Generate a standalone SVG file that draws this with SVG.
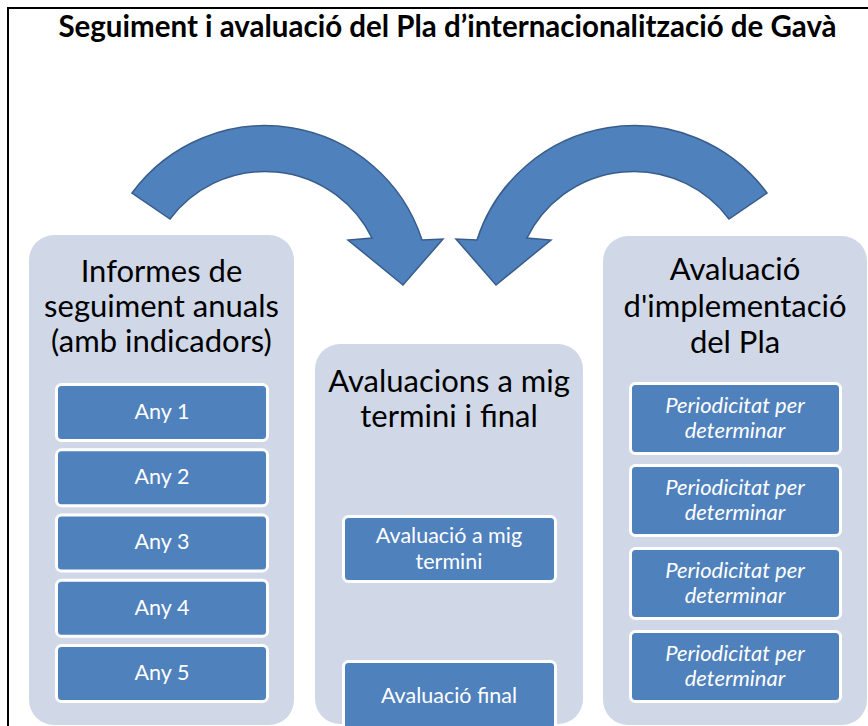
<svg xmlns="http://www.w3.org/2000/svg" width="868" height="726" viewBox="0 0 868 726">
<style>
.panel{fill:#D0D8E8;}
.box{fill:#4F81BD;stroke:#FFFFFF;stroke-width:3;}
.arrow{fill:#4F81BD;stroke:#385D8A;stroke-width:1.5;stroke-linejoin:miter;}
.title{font-family:Lato,"Liberation Sans",sans-serif;font-weight:bold;font-size:29.5px;fill:#000;text-anchor:middle;}
.ptitle{font-family:Lato,"Liberation Sans",sans-serif;font-size:31px;fill:#000;text-anchor:middle;}
.btext{font-family:Lato,"Liberation Sans",sans-serif;font-size:21.5px;fill:#FFFFFF;text-anchor:middle;}
.itext{font-family:Lato,"Liberation Sans",sans-serif;font-size:22px;font-style:italic;fill:#FFFFFF;text-anchor:middle;}
</style>
<rect x="0" y="0" width="868" height="726" fill="#FFFFFF"/>
<path d="M8 726 L8 8 L868 8" fill="none" stroke="#000" stroke-width="2"/>
<text class="title" x="447.5" y="37">Seguiment i avaluació del Pla d’internacionalització de Gavà</text>

<g id="connectors">
<path class="arrow" d="M132 193 A165 165 0 0 1 422 240 L443 239 L403 285 L348 240 L372 238 A119 119 0 0 0 170 219 Z"/>
<path class="arrow" d="M767 193 A165 165 0 0 0 477 240 L456 239 L496 285 L551 240 L527 238 A119 119 0 0 1 729 219 Z"/>
</g>

<g id="panel-informes">
<rect class="panel" x="29" y="235" width="265" height="490" rx="25"/>
<text class="ptitle" x="161.5" y="282">Informes de</text>
<text class="ptitle" x="161.5" y="317">seguiment anuals</text>
<text class="ptitle" x="161.5" y="352">(amb indicadors)</text>
</g>
<g id="any1"><rect class="box" x="56.5" y="384.5" width="211" height="56" rx="5"/><text class="btext" x="162" y="419">Any 1</text></g>
<g id="any2"><rect class="box" x="56.5" y="449.75" width="211" height="56" rx="5"/><text class="btext" x="162" y="484">Any 2</text></g>
<g id="any3"><rect class="box" x="56.5" y="515" width="211" height="56" rx="5"/><text class="btext" x="162" y="549">Any 3</text></g>
<g id="any4"><rect class="box" x="56.5" y="580.25" width="211" height="56" rx="5"/><text class="btext" x="162" y="615">Any 4</text></g>
<g id="any5"><rect class="box" x="56.5" y="645.5" width="211" height="56" rx="5"/><text class="btext" x="162" y="680">Any 5</text></g>

<g id="panel-avaluacions">
<rect class="panel" x="315" y="344" width="268" height="380" rx="25"/>
<text class="ptitle" x="449" y="392">Avaluacions a mig</text>
<text class="ptitle" x="449" y="427">termini i final</text>
</g>
<g id="mig"><rect class="box" x="343.5" y="516.5" width="212" height="65" rx="5"/><text class="btext" x="449" y="543">Avaluació a mig</text><text class="btext" x="449" y="569">termini</text></g>
<g id="final"><rect class="box" x="343.5" y="661.5" width="212" height="70" rx="5"/><text class="btext" x="449" y="703">Avaluació final</text></g>

<g id="panel-implementacio">
<rect class="panel" x="603" y="236" width="264" height="489" rx="25"/>
<text class="ptitle" x="735" y="280">Avaluació</text>
<text class="ptitle" x="735" y="317">d'implementació</text>
<text class="ptitle" x="735" y="353">del Pla</text>
</g>
<g id="per1"><rect class="box" x="630.5" y="383.5" width="210" height="70" rx="5"/><text class="itext" x="735" y="413">Periodicitat per</text><text class="itext" x="735" y="438">determinar</text></g>
<g id="per2"><rect class="box" x="630.5" y="465.5" width="210" height="70" rx="5"/><text class="itext" x="735" y="495">Periodicitat per</text><text class="itext" x="735" y="520">determinar</text></g>
<g id="per3"><rect class="box" x="630.5" y="548.5" width="210" height="70" rx="5"/><text class="itext" x="735" y="578">Periodicitat per</text><text class="itext" x="735" y="603">determinar</text></g>
<g id="per4"><rect class="box" x="630.5" y="631.5" width="210" height="70" rx="5"/><text class="itext" x="735" y="661">Periodicitat per</text><text class="itext" x="735" y="686">determinar</text></g>
</svg>
